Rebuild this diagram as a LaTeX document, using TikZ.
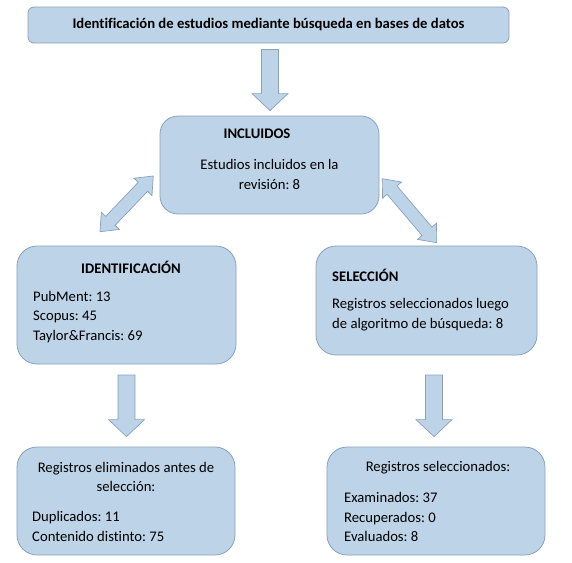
\documentclass[tikz,border=0pt]{standalone}
\usepackage{fontspec}
\setmainfont{Carlito}[Ligatures=NoCommon]
\usetikzlibrary{calc}
\definecolor{cajaazul}{RGB}{189,211,231}
\definecolor{bordeazul}{RGB}{136,162,190}
\frenchspacing
\tikzset{x=1pt, y=-1pt,
    caja/.style={draw=bordeazul, fill=cajaazul, line width=0.8pt, inner sep=0pt},
    flecha/.style={draw=bordeazul, fill=cajaazul, line width=0.7pt, line join=miter},
    texto/.style={inner sep=0pt, font=\fontsize{14.67}{19.5}\selectfont},
    titulo/.style={texto, font=\fontsize{14.67}{19.5}\selectfont\bfseries}}
% block arrow pointing down: shaft start, tip
\newcommand{\flechabaja}[2]{%
    \draw[flecha] ($(#1)+(-8.5,0)$) -- ($(#1)+(8.5,0)$) -- ($(#2)+(8.5,-17)$) -- ($(#2)+(18,-17)$)
    -- (#2) -- ($(#2)+(-18,-17)$) -- ($(#2)+(-8.5,-17)$) -- cycle;}
% double block arrow between two tips
\newcommand{\flechadoble}[2]{%
    \coordinate (ha) at ($(#1)!15pt!(#2)$);
    \coordinate (hb) at ($(#2)!15pt!(#1)$);
    \draw[flecha] (#1) -- ($(ha)!12.5pt!90:(#2)$) -- ($(ha)!6.5pt!90:(#2)$) -- ($(hb)!6.5pt!-90:(#1)$)
    -- ($(hb)!12.5pt!-90:(#1)$) -- (#2) -- ($(hb)!12.5pt!90:(#1)$) -- ($(hb)!6.5pt!90:(#1)$)
    -- ($(ha)!6.5pt!-90:(#2)$) -- ($(ha)!12.5pt!-90:(#2)$) -- cycle;}

\begin{document}
\begin{tikzpicture}
    \useasboundingbox (0,0) rectangle (572,562);
    % boxes
    \node[caja, rounded corners=6pt, minimum width=481, minimum height=36] (busqueda) at (268.5,25) {};
    \node[caja, rounded corners=18pt, minimum width=219, minimum height=98] (incluidos) at (269.5,165) {};
    \node[caja, rounded corners=20pt, minimum width=219, minimum height=118] (identif) at (126.5,305) {};
    \node[caja, rounded corners=20pt, minimum width=221, minimum height=109] (selec) at (426.5,300.5) {};
    \node[caja, rounded corners=20pt, minimum width=218, minimum height=108] (eliminados) at (126,501) {};
    \node[caja, rounded corners=20pt, minimum width=218, minimum height=108] (seleccionados) at (436,501) {};
    % texts
    \node[titulo] (t0) at (268.5,25) {Identificación de estudios mediante búsqueda en bases de datos};
    \node[titulo] (t1) at (257,134) {INCLUIDOS};
    \node[texto, align=center] (t2) at (269.5,174.5) {Estudios incluidos en la\\revisión: 8};
    \node[titulo] (t3) at (131,267) {IDENTIFICACIÓN};
    \node[texto, align=left, anchor=west] (t4) at (33,317) {PubMent: 13\\Scopus: 45\\Taylor\&Francis: 69};
    \node[titulo, anchor=west] (t5) at (332,275) {SELECCIÓN};
    \node[texto, align=left, anchor=west] (t6) at (332,314.5) {Registros seleccionados luego\\de algoritmo de búsqueda: 8};
    \node[texto, align=center] (t7) at (126,477) {Registros eliminados antes de\\selección:};
    \node[texto, align=left, anchor=west] (t8) at (32,526.5) {Duplicados: 11\\Contenido distinto: 75};
    \node[texto] (t9) at (438,468) {Registros seleccionados:};
    \node[texto, align=left, anchor=west] (t10) at (344,517) {Examinados: 37\\Recuperados: 0\\Evaluados: 8};
    % arrows
    \coordinate (a1) at ($(busqueda.south)+(1.5,6)$);
    \coordinate (b1) at ($(incluidos.north)+(0.5,-5)$);
    \flechabaja{a1}{b1}
    \coordinate (a2) at (126.5,375);
    \coordinate (b2) at ($(eliminados.north)+(0.5,-10)$);
    \flechabaja{a2}{b2}
    \coordinate (a3) at (434,375);
    \coordinate (b3) at ($(seleccionados.north)+(-2,-10)$);
    \flechabaja{a3}{b3}
    \coordinate (c1) at (100,231.7);
    \coordinate (d1) at (153.3,176);
    \flechadoble{c1}{d1}
    \coordinate (c2) at (382.3,178.7);
    \coordinate (d2) at (436.7,242.7);
    \flechadoble{c2}{d2}
\end{tikzpicture}
\end{document}
